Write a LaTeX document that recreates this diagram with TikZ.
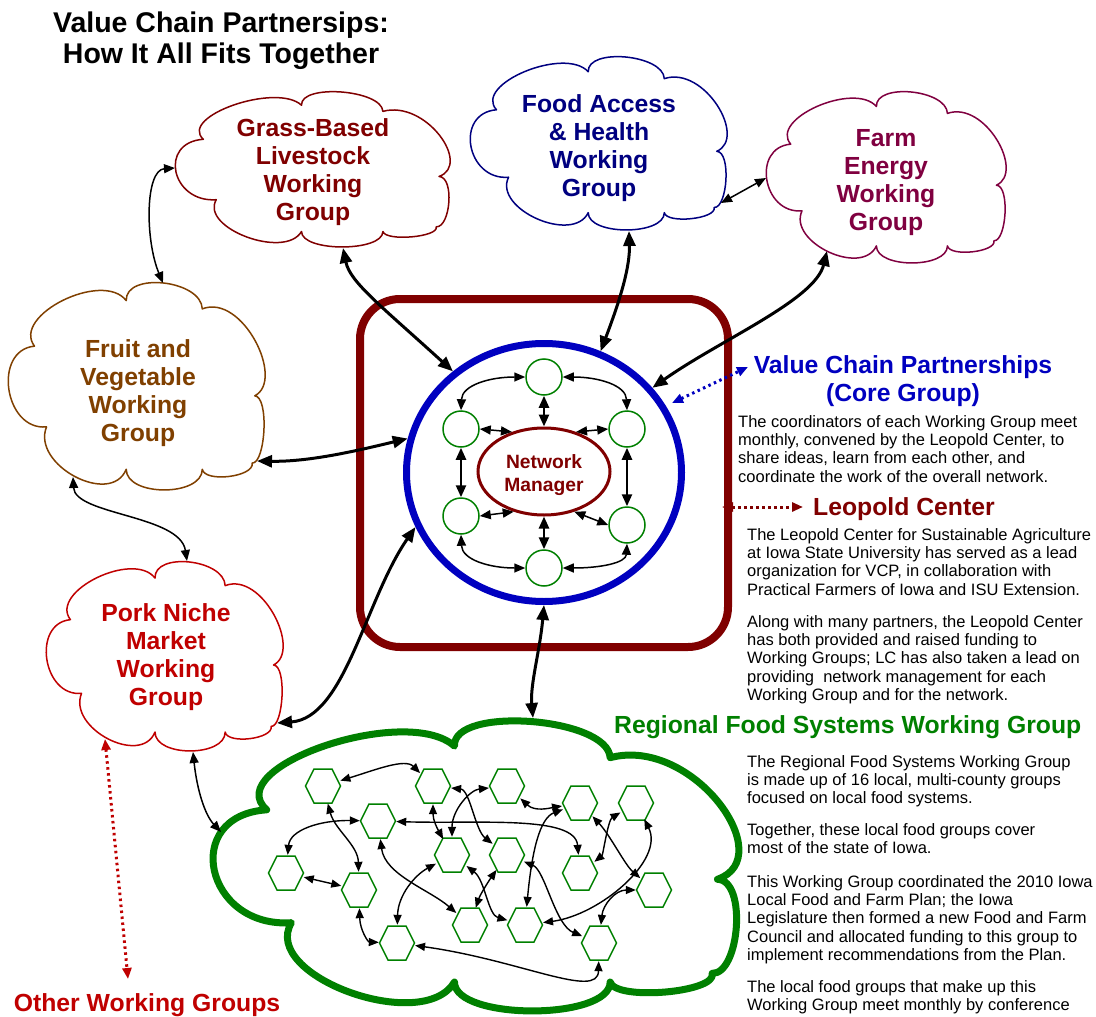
\documentclass[tikz,border=0pt]{standalone}
\usepackage{fontspec}
\setmainfont{Liberation Sans}
\usetikzlibrary{arrows.meta,shapes.geometric}

\definecolor{maroon}{HTML}{800000}
\definecolor{navyblue}{HTML}{000080}
\definecolor{plum}{HTML}{800040}
\definecolor{brownish}{HTML}{804000}
\definecolor{porkred}{HTML}{C00000}
\definecolor{coreblue}{HTML}{0000C0}
\definecolor{leafgreen}{HTML}{008000}

\newcommand\titlefont{\fontsize{28.5}{31}\selectfont\bfseries}
\newcommand\headfont{\fontsize{24.75}{28}\selectfont\bfseries}
\newcommand\nmfont{\fontsize{19.25}{22.7}\selectfont\bfseries}
\newcommand\bodyfont{\fontsize{16.5}{18.4}\selectfont}

% eight-puff cloud outline fitted into a box
% #1 style, #2/#3 top-left corner, #4 width, #5 height
\newcommand\wgcloud[5]{%
  \begin{scope}[shift={(#2,#3)}, xscale=#4/100, yscale=#5/100]
    \draw[line join=round, #1] (10.3,30.5)
      .. controls (1.2,15.7) and (36.9,-6.3) .. (46,8.5)
      .. controls (45.6,-5.5) and (75.2,-1.5) .. (75.6,12.5)
      .. controls (91.2,4.93) and (108,46.93) .. (96,54.5)
      .. controls (101.7,54.8) and (100.2,87.3) .. (95,87)
      .. controls (96,93.6) and (76.6,96.6) .. (75.6,90)
      .. controls (75.6,103.3) and (46,103.3) .. (46,90)
      .. controls (40,108.3) and (9,87.8) .. (15,69.5)
      .. controls (-1.4,71.5) and (-6.1,32.5) .. (10.3,30.5) -- cycle;
  \end{scope}}

\tikzset{
  bigtip/.tip={Triangle[length=15pt,width=12pt]},
  midtip/.tip={Triangle[length=11pt,width=9pt]},
  smalltip/.tip={Triangle[length=10pt,width=8pt]},
  mainlink/.style={line width=3pt, bigtip-bigtip},
  sidelink/.style={line width=1.5pt, midtip-midtip},
  ringlink/.style={line width=1.5pt, midtip-midtip},
  spoke/.style={line width=2.5pt, {Triangle[length=12pt,width=10pt]}-{Triangle[length=12pt,width=10pt]}},
  hexlink/.style={line width=1.4pt, smalltip-smalltip},
  dotlink/.style={line width=3pt, dash pattern=on 2.5pt off 3.5pt, midtip-midtip},
  cloudline/.style={line width=1.5pt, fill=white},
  cloudtext/.style={align=center, font=\headfont, inner sep=0},
  member/.style={circle, draw=leafgreen, line width=1.5pt, fill=white, minimum size=36pt, inner sep=0},
  hexspot/.style={circle, minimum size=36pt, inner sep=0},
  hexline/.style={draw=leafgreen, line width=1.5pt, fill=white},
  bodyline/.style={anchor=base west, inner sep=0, font=\bodyfont},
  heading/.style={inner sep=0, font=\headfont}
}

\begin{document}
\begin{tikzpicture}[x=1pt, y=-1pt]
\useasboundingbox[fill=white] (0,0) rectangle (1096,1017);

% ---------- regional food systems cloud and its local groups ----------
\wgcloud{draw=leafgreen, line width=7pt, fill=white}{212.5}{721.5}{526}{289.5}

\foreach \n/\x/\y in {h1/323/786, h2/433/786, h3/507/786, h4/580/803, h5/636/803,
                      h6/378/821, h7/452/855, h8/507/855, h9/580/873, h10/286/873,
                      h11/359/890, h12/654/890, h13/470/925, h14/525/925,
                      h15/397/943, h16/599/943} {
  \draw[hexline] (\x-17.5,\y) -- (\x-9,\y-17) -- (\x+9,\y-17) -- (\x+17.5,\y)
                 -- (\x+9,\y+17) -- (\x-9,\y+17) -- cycle;
  \node[hexspot] (\n) at (\x,\y) {};
}

\draw[hexlink] (h1) .. controls (375,770) and (405,758) .. (h2);
\draw[hexlink] (h1) .. controls (335,830) and (358,845) .. (h11);
\draw[hexlink] (h10) .. controls (290,830) and (320,820) .. (h6);
\draw[hexlink] (h10) -- (h11);
\draw[hexlink] (h11) .. controls (360,930) and (368,942) .. (h15);
\draw[hexlink] (h6) .. controls (385,875) and (430,890) .. (h13);
\draw[hexlink] (h7) .. controls (415,875) and (398,895) .. (h15);
\draw[hexlink] (h2) .. controls (433,820) and (437,828) .. (h7);
\draw[hexlink] (h2) .. controls (470,790) and (475,830) .. (h8);
\draw[hexlink] (h7) .. controls (452,810) and (470,790) .. (h3);
\draw[hexlink] (h6) .. controls (480,824) and (575,815) .. (h9);
\draw[hexlink] (h3) .. controls (535,812) and (550,808) .. (h4);
\draw[hexlink] (h14) .. controls (532,850) and (540,818) .. (h4);
\draw[hexlink] (h7) .. controls (485,880) and (488,915) .. (h14);
\draw[hexlink] (h8) .. controls (488,882) and (480,895) .. (h13);
\draw[hexlink] (h8) .. controls (545,870) and (555,925) .. (h16);
\draw[hexlink] (h14) .. controls (600,915) and (665,860) .. (h5);
\draw[hexlink] (h4) .. controls (610,835) and (625,865) .. (h12);
\draw[hexlink] (h9) .. controls (603,855) and (608,820) .. (h5);
\draw[hexlink] (h12) .. controls (615,890) and (603,905) .. (h16);
\draw[hexlink] (h15) .. controls (520,960) and (598,1000) .. (h16);

% ---------- working group clouds ----------
\wgcloud{cloudline, draw=maroon}{175}{92}{275}{155}
\wgcloud{cloudline, draw=navyblue}{470}{57}{257}{173}
\wgcloud{cloudline, draw=plum}{766}{92}{240}{171}
\wgcloud{cloudline, draw=brownish}{8}{283}{257}{207}
\wgcloud{cloudline, draw=porkred}{46}{562}{237}{189}

\node[cloudtext, text=maroon] (grass) at (313,171.7) {Grass-Based\\Livestock\\Working\\Group};
\node[cloudtext, text=navyblue] (food) at (599,148) {Food Access\\\& Health\\Working\\Group};
\node[cloudtext, text=plum] (farm) at (886,183) {Farm\\Energy\\Working\\Group};
\node[cloudtext, text=brownish] (fruit) at (138,393) {Fruit and\\Vegetable\\Working\\Group};
\node[cloudtext, text=porkred] (pork) at (166,657) {Pork Niche\\Market\\Working\\Group};

% ---------- core group ----------
\node[draw=maroon, line width=8pt, rounded corners=40pt, minimum width=368pt,
      minimum height=348pt, inner sep=0] (corebox) at (544,473) {};
\node[ellipse, draw=coreblue, line width=7pt, fill=white, minimum width=275pt,
      minimum height=258pt, inner sep=0] (core) at (544,472.5) {};
\node[ellipse, draw=maroon, line width=3pt, minimum width=132pt,
      minimum height=87pt, inner sep=0] (nm) at (544,471.5) {};
\node[font=\nmfont, text=maroon, align=center, inner sep=0] (nm-label) at (544,475.4) {Network\\Manager};

\node[member] (ct) at (544,377) {};
\node[member] (cul) at (461,429) {};
\node[member] (cur) at (627,429) {};
\node[member] (cll) at (461,516) {};
\node[member] (clr) at (627,525) {};
\node[member] (cb) at (544,568) {};

\draw[ringlink] (ct.west) .. controls (490,377) and (462,385) .. (cul.north);
\draw[ringlink] (ct.east) .. controls (598,377) and (626,385) .. (cur.north);
\draw[ringlink] (cll.south) .. controls (462,560) and (490,568) .. (cb.west);
\draw[ringlink] (clr.south) .. controls (626,563) and (600,568) .. (cb.east);
\draw[spoke] (cul.south) -- (cll.north);
\draw[spoke] (cur.south) -- (clr.north);
\draw[spoke] (ct.south) -- (nm.north);
\draw[spoke] (cb.north) -- (nm.south);
\draw[ringlink] (cul.east) -- (nm.129);
\draw[ringlink] (cur.west) -- (nm.51);
\draw[ringlink] (cll.east) -- (nm.233);
\draw[ringlink] (clr.west) -- (nm.307);

% ---------- connection points on the clouds ----------
\coordinate (grass-s) at (343,248);
\coordinate (grass-w) at (175,168);
\coordinate (food-s) at (629,231);
\coordinate (food-e) at (721,203);
\coordinate (farm-w) at (766,178);
\coordinate (farm-s) at (827,251);
\coordinate (fruit-n) at (163,283);
\coordinate (fruit-e) at (257,461);
\coordinate (fruit-s) at (73,477);
\coordinate (pork-n) at (187,561);
\coordinate (pork-e) at (277,723);
\coordinate (pork-s) at (193,752);
\coordinate (pork-sw) at (105,739);
\coordinate (rfs-n) at (533,718);
\coordinate (rfs-w) at (221,832);
\coordinate (other-n) at (128,979);
\coordinate (vcp-ring) at (672,403);
\coordinate (vcp-tip) at (748,367);
\coordinate (lc-edge) at (722,507);
\coordinate (lc-tip) at (803,507);

% ---------- links between groups ----------
\draw[mainlink] (grass-s) .. controls (350,282) and (380,305) .. (core.132);
\draw[mainlink] (food-s) .. controls (630,265) and (622,295) .. (core.65);
\draw[mainlink] (farm-s) .. controls (815,300) and (720,340) .. (core.38);
\draw[mainlink] (fruit-e) .. controls (310,462) and (360,450) .. (core.166);
\draw[mainlink] (pork-e) .. controls (345,718) and (365,600) .. (core.203);
\draw[mainlink] (core.270) .. controls (540,650) and (530,685) .. (rfs-n);

\draw[sidelink] (grass-w) .. controls (145,170) and (145,240) .. (fruit-n);
\draw[sidelink] (food-e) -- (farm-w);
\draw[sidelink] (fruit-s) .. controls (75,515) and (180,515) .. (pork-n);
\draw[sidelink] (pork-s) .. controls (197,790) and (205,815) .. (rfs-w);

\draw[dotlink, porkred] (pork-sw) -- (other-n);
\draw[dotlink, coreblue] (vcp-ring) -- (vcp-tip);
\draw[dotlink, maroon] (lc-edge) -- (lc-tip);

% ---------- titles and notes ----------
\node[anchor=base, inner sep=0, font=\titlefont] (title-1) at (221,32.3) {Value Chain Partnersips:};
\node[anchor=base, inner sep=0, font=\titlefont] (title-2) at (221,63.3) {How It All Fits Together};

\node[heading, anchor=base, text=coreblue] (vcp-head) at (903,373) {Value Chain Partnerships};
\node[heading, anchor=base, text=coreblue] (vcp-sub) at (903,401) {(Core Group)};
\foreach \txt [count=\i from 0] in {{The coordinators of each Working Group meet},
    {monthly, convened by the Leopold Center, to},
    {share ideas, learn from each other, and},
    {coordinate the work of the overall network.}}
  \node[bodyline] (vcp-note-\i) at (738,427+18.4*\i) {\txt};

\node[heading, anchor=base west, text=maroon] (lc-head) at (813,515) {Leopold Center};
\foreach \txt [count=\i from 0] in {{The Leopold Center for Sustainable Agriculture},
    {at Iowa State University has served as a lead},
    {organization for VCP, in collaboration with},
    {Practical Farmers of Iowa and ISU Extension.}}
  \node[bodyline] (lc-note-\i) at (747,540+18.4*\i) {\txt};
\foreach \txt [count=\i from 0] in {{Along with many partners, the Leopold Center},
    {has both provided and raised funding to},
    {Working Groups; LC has also taken a lead on},
    {providing \ network management for each},
    {Working Group and for the network.}}
  \node[bodyline] (lc-more-\i) at (747,627+18.4*\i) {\txt};

\node[heading, anchor=base west, text=leafgreen] (rfs-head) at (614,733) {Regional Food Systems Working Group};
\foreach \txt [count=\i from 0] in {{The Regional Food Systems Working Group},
    {is made up of 16 local, multi-county groups},
    {focused on local food systems.}}
  \node[bodyline] (rfs-a-\i) at (747,767+18.4*\i) {\txt};
\foreach \txt [count=\i from 0] in {{Together, these local food groups cover},
    {most of the state of Iowa.}}
  \node[bodyline] (rfs-b-\i) at (747,835+18.4*\i) {\txt};
\foreach \txt [count=\i from 0] in {{This Working Group coordinated the 2010 Iowa},
    {Local Food and Farm Plan; the Iowa},
    {Legislature then formed a new Food and Farm},
    {Council and allocated funding to this group to},
    {implement recommendations from the Plan.}}
  \node[bodyline] (rfs-c-\i) at (747,887+18.4*\i) {\txt};
\foreach \txt [count=\i from 0] in {{The local food groups that make up this},
    {Working Group meet monthly by conference}}
  \node[bodyline] (rfs-d-\i) at (747,992+18.4*\i) {\txt};

\node[heading, anchor=base, text=porkred] (other) at (147,1011) {Other Working Groups};

\end{tikzpicture}
\end{document}
